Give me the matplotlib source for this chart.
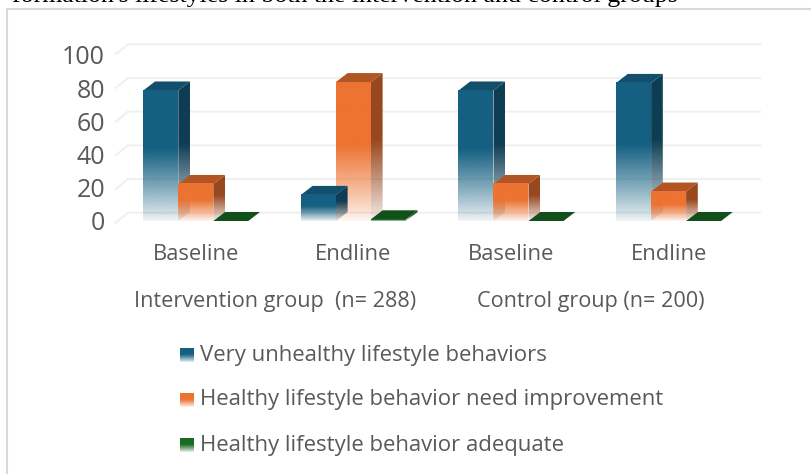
import matplotlib
matplotlib.use('Agg')
import matplotlib.pyplot as plt
import numpy as np
from matplotlib.colors import to_rgb
from matplotlib.patches import Polygon

caption = "formation's lifestyles in both the intervention and control groups"
groups = ['Baseline', 'Endline', 'Baseline', 'Endline']
arms = ['Intervention group  (n= 288)', 'Control group (n= 200)']
series = ['Very unhealthy lifestyle behaviors',
          'Healthy lifestyle behavior need improvement',
          'Healthy lifestyle behavior adequate']
very_unhealthy = [77.5, 15.5, 77.5, 82]
need_improvement = [22, 82.5, 22, 17.5]
adequate = [0, 1, 0, 0]
yticks = [0, 20, 40, 60, 80, 100]

front = ['#156082', '#ed7332', '#196b24']
side = ['#0e3d54', '#97481f', '#124f1a']
top = ['#114f6c', '#b25525', '#124f1a']
grey = '#595959'
font = ['Open Sans', 'DejaVu Sans']

W, H = 812, 474
fig = plt.figure(figsize=(W / 100, H / 100), dpi=100)
ax = fig.add_axes([0, 0, 1, 1])
# one group step = 157.6 px, one value unit = 1.684 px, group 0 centred at 195.8 px
ax.axis('off')

bar_w = 35 / 157.6
depth_x = 11.7 / 157.6
depth_y = 9 / 1.684


def px(x):
    return (x - 195.8) / 157.6


def py(y):
    return (221 - y) / 1.684


def fade(colour, n=100):
    # alpha ramp: solid over the upper half, nearly gone at the base
    img = np.zeros((n, 1, 4))
    img[:, :, :3] = to_rgb(colour)
    t = np.linspace(0, 1, n)
    img[:, 0, 3] = np.clip(t / 0.55, 0, 1) ** 0.9 * 0.93 + 0.07
    return img[::-1]


def draw_bar(x, v, s, z):
    if v <= 0:
        ax.add_patch(Polygon([(x, 0), (x + bar_w, 0), (x + bar_w + depth_x, depth_y), (x + depth_x, depth_y)],
                             fc=top[s], ec='none', zorder=z))
        return
    # right side face, clipped from a gradient rectangle
    im = ax.imshow(fade(side[s]), extent=[x + bar_w, x + bar_w + depth_x, 0, v + depth_y],
                   aspect='auto', zorder=z, interpolation='bilinear')
    im.set_clip_path(Polygon([(x + bar_w, 0), (x + bar_w + depth_x, depth_y),
                              (x + bar_w + depth_x, v + depth_y), (x + bar_w, v)],
                             transform=ax.transData))
    ax.add_patch(Polygon([(x, v), (x + bar_w, v), (x + bar_w + depth_x, v + depth_y), (x + depth_x, v + depth_y)],
                         fc=top[s], ec='none', zorder=z))
    ax.imshow(fade(front[s]), extent=[x, x + bar_w, 0, v], aspect='auto', zorder=z + 0.1,
              interpolation='bilinear')


# gridlines on the wall with a short floor return at the left
x_left = px(116)
x_back = px(128)
x_right = px(760)
for t in yticks:
    ax.plot([x_left, x_back, x_right], [t - 1.5 / 1.684, t + 8.3 / 1.684, t + 8.3 / 1.684],
            color='#f0f0f0', lw=1.5, zorder=1, solid_joinstyle='miter')
    # tick labels run on a slightly tighter step than the bars
    ax.text(px(105), py(224 - 1.66 * t), str(t), ha='right', va='center', fontsize=18,
            color=grey, family=font)

values = [very_unhealthy, need_improvement, adequate]
for i in range(len(groups)):
    # taller bar first so the shorter neighbour sits over it
    order = sorted(range(3), key=lambda s: -values[s][i])
    for k, s in enumerate(order):
        draw_bar(i + (s - 1.5) * bar_w, values[s][i], s, 2 + k)
    ax.text(i, py(254), groups[i], ha='center', va='center', fontsize=15.8, color=grey, family=font)

ax.text(px(275), py(302), arms[0], ha='center', va='center', fontsize=15.6, color=grey, family=font)
ax.text(px(590.5), py(302), arms[1], ha='center', va='center', fontsize=15.6, color=grey, family=font)

# legend rows
leg_y = [355, 400, 445]
for s, y in enumerate(leg_y):
    ax.imshow(fade(front[s]), extent=[px(180), px(194), py(y + 7), py(y - 7)], aspect='auto', zorder=3,
              interpolation='bilinear')
    ax.text(px(200), py(y), series[s], ha='left', va='center',
            fontsize=15.9, color=grey, family=font)

# chart frame, open on the right and at the bottom
ax.plot([px(7), px(7), px(W)], [py(H), py(9), py(9)], color='#d9d9d9', lw=1.5, zorder=1)

# last line of the paragraph above the chart, cut by the page edge
ax.text(px(678), py(2.2), caption, ha='right', va='baseline', fontsize=18.6, color='black',
        family='Liberation Serif', clip_on=True)

ax.set_xlim(px(0), px(W))
ax.set_ylim(py(H), py(0))
fig.savefig('out.png', dpi=100)
